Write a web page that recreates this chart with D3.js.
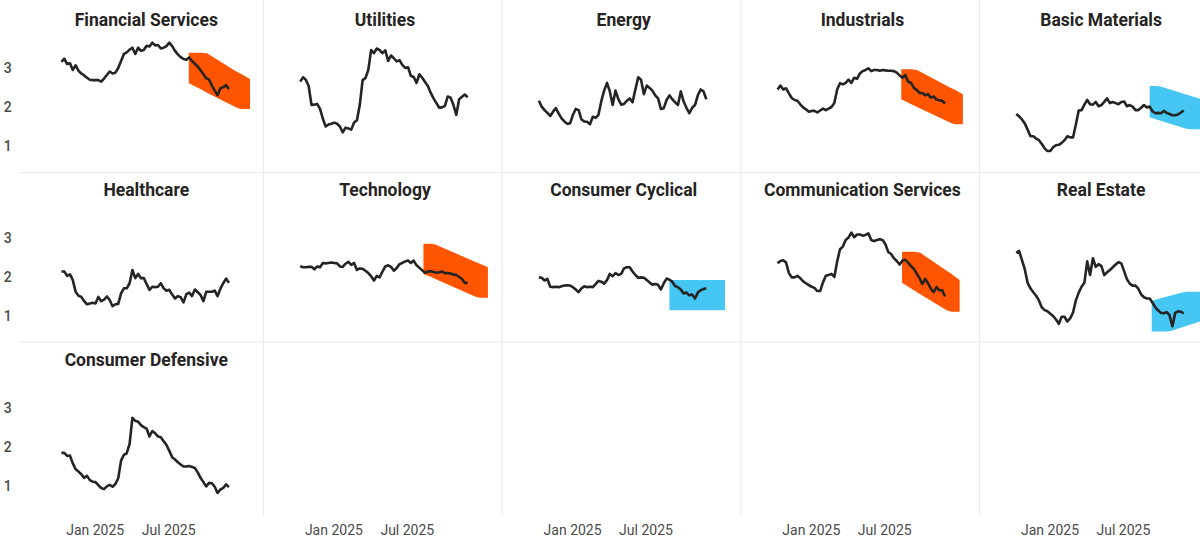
<!DOCTYPE html>
<html>
<head>
<meta charset="utf-8">
<script src="https://d3js.org/d3.v7.min.js"></script>
<style>
  body { margin: 0; background: #fff; }
  svg text { font-family: Roboto, "Liberation Sans", sans-serif; }
</style>
</head>
<body>
<script>
// sectors, in panel order (5 per row)
var sectors = ["Financial Services", "Utilities", "Energy", "Industrials", "Basic Materials",
  "Healthcare", "Technology", "Consumer Cyclical", "Communication Services", "Real Estate",
  "Consumer Defensive"];

// weekly observations, Oct 11 2024 .. Nov 28 2025
var weeks = d3.timeDay.range(new Date(2024, 9, 11), new Date(2025, 10, 29), 7);

var financialServices = [3.16,3.24,3.10,3.12,2.95,3.07,2.93,2.86,2.81,2.75,2.70,2.69,2.69,2.69,2.65,2.73,2.82,2.91,2.86,2.88,
  3.00,3.18,3.36,3.40,3.47,3.52,3.36,3.52,3.44,3.46,3.57,3.55,3.65,3.58,3.59,3.50,3.52,3.56,3.65,3.56,
  3.44,3.35,3.28,3.23,3.21,3.27,3.18,3.11,3.04,2.94,2.84,2.74,2.70,2.55,2.42,2.30,2.48,2.51,2.56,2.46];
var utilities = [2.65,2.76,2.70,2.54,2.05,2.06,2.08,1.95,1.70,1.50,1.55,1.57,1.60,1.57,1.50,1.35,1.47,1.45,1.42,1.60,
  1.66,2.05,2.69,2.74,2.95,3.46,3.38,3.50,3.46,3.38,3.45,3.18,3.32,3.25,3.17,3.20,3.08,3.00,3.02,2.80,
  2.77,2.62,2.84,2.75,2.64,2.54,2.36,2.22,2.10,1.98,1.99,2.03,2.27,2.24,2.05,1.80,2.20,2.26,2.32,2.25];
var energy = [2.16,2.01,1.92,1.85,1.77,1.88,1.97,1.83,1.71,1.63,1.57,1.58,1.80,1.95,1.92,1.68,1.63,1.62,1.56,1.75,
  1.72,1.80,2.15,2.42,2.62,2.40,2.05,2.42,2.20,2.06,2.08,2.16,2.22,2.12,2.45,2.76,2.70,2.33,2.55,2.49,
  2.42,2.30,2.22,1.95,1.97,2.18,2.30,2.20,2.12,2.05,2.40,2.14,1.98,1.84,1.98,2.05,2.30,2.45,2.40,2.20];
var industrials = [2.45,2.55,2.45,2.48,2.35,2.23,2.18,2.16,2.07,1.99,1.94,1.88,1.90,1.90,1.86,1.91,1.96,1.92,1.96,2.00,
  2.10,2.45,2.61,2.58,2.62,2.70,2.62,2.75,2.72,2.86,2.92,2.95,2.99,2.92,2.95,2.95,2.93,2.95,2.94,2.93,
  2.93,2.92,2.88,2.81,2.75,2.82,2.65,2.62,2.49,2.44,2.36,2.36,2.30,2.33,2.24,2.27,2.19,2.17,2.16,2.09];
var basicMaterials = [1.82,1.76,1.68,1.58,1.42,1.25,1.25,1.19,1.15,1.05,0.94,0.87,0.87,0.97,1.02,1.03,1.08,1.15,1.25,1.22,
  1.22,1.55,1.91,1.92,2.06,2.18,2.07,2.06,2.13,2.02,2.05,2.13,2.22,2.10,2.13,2.10,2.07,2.13,2.14,2.02,
  2.05,2.01,1.92,1.92,1.98,2.05,1.99,2.01,1.89,1.84,1.85,1.84,1.90,1.85,1.82,1.79,1.79,1.81,1.86,1.91];
var healthcare = [2.14,2.14,2.03,2.07,1.92,1.62,1.52,1.49,1.38,1.30,1.32,1.34,1.32,1.49,1.38,1.42,1.50,1.41,1.25,1.30,
  1.31,1.58,1.71,1.71,1.84,2.18,1.97,2.08,1.97,1.97,1.82,1.67,1.75,1.74,1.75,1.84,1.71,1.65,1.67,1.55,
  1.45,1.51,1.48,1.35,1.56,1.60,1.51,1.68,1.61,1.54,1.38,1.62,1.62,1.62,1.65,1.51,1.70,1.84,1.96,1.85];
var technology = [2.28,2.25,2.25,2.26,2.26,2.20,2.27,2.25,2.36,2.35,2.36,2.37,2.36,2.35,2.27,2.26,2.34,2.39,2.31,2.36,
  2.18,2.22,2.21,2.16,2.10,2.02,1.91,2.03,1.99,2.14,2.27,2.30,2.26,2.16,2.23,2.33,2.36,2.40,2.42,2.36,
  2.42,2.30,2.24,2.17,2.11,2.14,2.15,2.13,2.11,2.12,2.14,2.10,2.10,2.09,2.06,2.05,2.00,1.95,1.85,1.85];
var consumerCyclical = [1.99,1.98,1.91,1.95,1.75,1.74,1.75,1.74,1.76,1.78,1.79,1.78,1.74,1.68,1.61,1.71,1.76,1.74,1.75,1.74,
  1.82,1.90,1.88,1.83,1.92,2.08,2.02,2.10,2.05,2.08,2.22,2.25,2.25,2.14,2.05,1.98,1.99,1.98,1.92,1.86,
  1.80,1.82,1.80,1.68,1.84,1.96,1.93,1.88,1.77,1.74,1.68,1.58,1.60,1.53,1.55,1.45,1.60,1.66,1.69,1.71];
var communicationServices = [2.35,2.41,2.43,2.37,2.10,1.99,1.99,2.03,1.97,1.89,1.84,1.79,1.75,1.72,1.64,1.64,1.86,2.03,2.05,2.08,
  2.00,2.40,2.71,2.78,2.95,3.01,3.14,3.02,3.09,3.09,3.06,3.08,3.12,2.95,2.92,2.95,2.97,2.95,2.84,2.64,
  2.59,2.48,2.41,2.32,2.42,2.44,2.37,2.28,2.21,2.09,1.97,1.82,1.95,1.84,1.70,1.61,1.74,1.66,1.66,1.50];
var realEstate = [2.62,2.67,2.43,2.20,1.85,1.71,1.61,1.52,1.40,1.22,1.15,1.12,1.06,1.00,0.91,0.80,0.98,0.98,0.86,0.94,
  1.09,1.40,1.60,1.75,1.85,2.40,2.05,2.48,2.26,2.33,2.28,2.05,2.12,2.18,2.25,2.32,2.38,2.35,2.15,1.94,
  1.83,1.78,1.78,1.70,1.55,1.48,1.45,1.45,1.34,1.22,1.14,1.08,1.07,1.10,1.02,0.74,1.08,1.12,1.11,1.07];
var consumerDefensive = [1.85,1.85,1.77,1.78,1.58,1.43,1.37,1.30,1.21,1.26,1.15,1.11,1.10,1.02,0.95,0.92,0.99,1.03,0.98,1.05,
  1.20,1.65,1.80,1.84,2.08,2.75,2.67,2.65,2.56,2.51,2.47,2.27,2.41,2.35,2.27,2.25,2.15,2.05,1.90,1.74,
  1.68,1.61,1.55,1.50,1.50,1.51,1.49,1.46,1.35,1.21,1.10,0.99,1.08,1.07,0.98,0.82,0.91,0.95,1.04,0.97];

// forecast bands: [date, upper, lower]
var financialBand = [["2025-08-21",3.39,2.61],["2025-09-22",3.39,2.44],["2025-10-06",3.37,2.36],["2025-12-14",2.92,2.00],["2025-12-26",2.86,1.95],["2026-01-19",2.72,1.95]];
var industrialsBand = [["2025-08-12",2.97,2.20],["2025-09-06",2.97,2.07],["2025-09-20",2.95,2.00],["2025-12-10",2.50,1.60],["2025-12-22",2.44,1.56],["2026-01-11",2.33,1.56]];
var basicBand = [["2025-09-05",2.54,1.74],["2025-09-22",2.54,1.68],["2025-10-04",2.52,1.64],["2025-12-02",2.33,1.45],["2025-12-14",2.29,1.43],["2026-02-02",2.13,1.43]];
var technologyBand = [["2025-08-11",2.85,2.08],["2025-08-30",2.85,2.00],["2025-09-11",2.83,1.94],["2025-12-16",2.39,1.50],["2025-12-28",2.34,1.47],["2026-01-17",2.25,1.47]];
var cyclicalBand = [["2025-08-29",1.92,1.15],["2026-01-13",1.92,1.15]];
var commBand = [["2025-08-14",2.65,1.85],["2025-09-14",2.65,1.65],["2025-09-28",2.62,1.56],["2025-12-02",2.16,1.15],["2025-12-14",2.08,1.11],["2026-01-03",1.92,1.11]];
var realEstateBand = [["2025-09-10",1.39,0.60],["2025-10-18",1.50,0.60],["2025-10-30",1.53,0.62],["2025-11-24",1.60,0.71],["2025-12-06",1.62,0.75],["2026-02-05",1.62,0.96]];

var series = [financialServices, utilities, energy, industrials, basicMaterials, healthcare, technology,
  consumerCyclical, communicationServices, realEstate, consumerDefensive];
var bands = [financialBand, null, null, industrialsBand, basicBand, null, technologyBand,
  cyclicalBand, commBand, realEstateBand, null];
var bandColors = ["#FF5500", null, null, "#FF5500", "#45C6F3", null, "#FF5500", "#45C6F3", "#FF5500", "#45C6F3", null];

var xTicks = [new Date(2025, 0, 1), new Date(2025, 6, 1)];
var yTicks = [1, 2, 3];

var width = 1200, height = 544;
var colW = 238.7, colX0 = 24.8, rowH = 170;
var parse = d3.timeParse("%Y-%m-%d");

var svg = d3.select("body").append("svg")
  .attr("width", width)
  .attr("height", height);

var x = d3.scaleTime()
  .domain([new Date(2024, 9, 1), new Date(2026, 1, 1)])
  .range([32.6, 230.5]);
var y = d3.scaleLinear().domain([0, 4]).range([185, 29]);

// grid separators
for (var c = 1; c < 5; c++) {
  svg.append("line")
    .attr("x1", colX0 + c * colW).attr("x2", colX0 + c * colW)
    .attr("y1", 0).attr("y2", 516)
    .attr("stroke", "#e9e9e9").attr("stroke-width", 1);
}
[172.5, 342].forEach(function(yy) {
  svg.append("line")
    .attr("x1", 20).attr("x2", width)
    .attr("y1", yy).attr("y2", yy)
    .attr("stroke", "#e9e9e9").attr("stroke-width", 1);
});

var line = d3.line()
  .x(function(d, i) { return x(weeks[i]); })
  .y(function(d) { return y(d); });

var area = d3.area()
  .x(function(d) { return x(parse(d[0])); })
  .y0(function(d) { return y(d[2]); })
  .y1(function(d) { return y(d[1]); });

sectors.forEach(function(name, i) {
  var col = i % 5, row = Math.floor(i / 5);
  var g = svg.append("g")
    .attr("transform", "translate(" + (colX0 + col * colW) + "," + (row * rowH) + ")");

  if (bands[i]) {
    g.append("path")
      .attr("d", area(bands[i]))
      .attr("fill", bandColors[i]);
  }

  g.append("path")
    .attr("d", line(series[i]))
    .attr("fill", "none")
    .attr("stroke", "#252423")
    .attr("stroke-width", 2.6)
    .attr("stroke-linejoin", "round");

  g.append("text")
    .attr("x", 121.5)
    .attr("y", 26)
    .attr("text-anchor", "middle")
    .attr("font-size", 17.5)
    .attr("font-weight", 700)
    .attr("fill", "#252423")
    .text(name);

  if (col == 0) {
    var ya = g.append("g")
      .attr("transform", "translate(-17,0)")
      .call(d3.axisLeft(y).tickValues(yTicks).tickSize(0).tickPadding(0).tickFormat(d3.format("d")));
    ya.select(".domain").remove();
    ya.selectAll("text")
      .attr("text-anchor", "middle")
      .attr("font-size", 14)
      .attr("font-weight", 500)
      .attr("fill", "#4a4a4a");
  }
});

// x axes along the bottom row, every column
for (var c = 0; c < 5; c++) {
  var xa = svg.append("g")
    .attr("transform", "translate(" + (colX0 + c * colW) + ",516)")
    .call(d3.axisBottom(x).tickValues(xTicks).tickSize(0).tickPadding(9).tickFormat(d3.timeFormat("%b %Y")));
  xa.select(".domain").remove();
  xa.selectAll("text")
    .attr("font-size", 14)
    .attr("fill", "#4a4a4a");
}
</script>
</body>
</html>
